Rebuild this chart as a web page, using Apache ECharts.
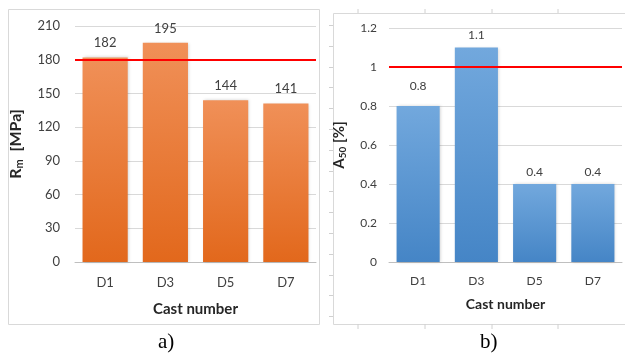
<!DOCTYPE html>
<html>
<head>
<meta charset="utf-8">
<script src="https://cdn.jsdelivr.net/npm/echarts@6/dist/echarts.min.js"></script>
<style>
  html, body { margin: 0; padding: 0; background: #fff; }
  #chart { width: 625px; height: 355px; }
</style>
</head>
<body>
<div id="chart"></div>
<script>
// Cast numbers and measured properties
const casts = ['D1', 'D3', 'D5', 'D7'];
const tensileStrength = [182, 195, 144, 141];   // Rm, MPa
const elongation = [0.8, 1.1, 0.4, 0.4];        // A50, %
const tensileLimit = 180;
const elongationLimit = 1;

// Axis ranges
const tensileAxis = { min: 0, max: 210, interval: 30 };
const elongAxis = { min: 0, max: 1.2, interval: 0.2 };

const FONT = 'Lato, "Open Sans", sans-serif';
const TXT = '#404040';
const GRID = '#d9d9d9';

function grad(top, bottom) {
  return { type: 'linear', x: 0, y: 0, x2: 0, y2: 1,
    colorStops: [{ offset: 0, color: top }, { offset: 1, color: bottom }] };
}

const chart = echarts.init(document.getElementById('chart'), null, { renderer: 'canvas' });

// thin cell-border ticks around the second panel
const cellTicks = [];
[358, 425, 492, 558].forEach(x => {
  cellTicks.push({ type: 'line', shape: { x1: x, y1: 9, x2: x, y2: 13 }, style: { stroke: '#d0d0d0', lineWidth: 1 } });
  cellTicks.push({ type: 'line', shape: { x1: x, y1: 324, x2: x, y2: 329 }, style: { stroke: '#d0d0d0', lineWidth: 1 } });
});
for (let k = 0; k < 15; k++) {
  const y = Math.round(25 + k * 20.8) + 0.5;
  cellTicks.push({ type: 'line', shape: { x1: 329, y1: y, x2: 333, y2: y }, style: { stroke: '#d0d0d0', lineWidth: 1 } });
}

const option = {
  backgroundColor: '#ffffff',
  animation: false,
  textStyle: { fontFamily: FONT },
  grid: [
    { left: 75, right: 309, top: 26, bottom: 93 },
    { left: 389, right: 3, top: 28, bottom: 93 }
  ],
  xAxis: [
    {
      gridIndex: 0, type: 'category', data: casts,
      axisLine: { lineStyle: { color: '#bfbfbf', width: 1 } },
      axisTick: { show: false },
      axisLabel: { color: TXT, fontSize: 13, margin: 14, fontFamily: FONT },
      name: 'Cast number', nameLocation: 'middle', nameGap: 40,
      nameTextStyle: { color: '#262626', fontSize: 15, fontWeight: 'bold', fontFamily: FONT }
    },
    {
      gridIndex: 1, type: 'category', data: casts,
      axisLine: { lineStyle: { color: '#bfbfbf', width: 1 } },
      axisTick: { show: false },
      axisLabel: { color: TXT, fontSize: 12, margin: 13, fontFamily: FONT },
      name: 'Cast number', nameLocation: 'middle', nameGap: 35,
      nameTextStyle: { color: '#262626', fontSize: 14, fontWeight: 'bold', fontFamily: FONT }
    }
  ],
  yAxis: [
    {
      gridIndex: 0, type: 'value', min: tensileAxis.min, max: tensileAxis.max, interval: tensileAxis.interval,
      axisLine: { show: false }, axisTick: { show: false },
      axisLabel: { color: TXT, fontSize: 13, margin: 15, fontFamily: FONT },
      splitLine: { lineStyle: { color: GRID, width: 1 } },
      name: '{b|R}{s|m}{b|  [MPa]}', nameLocation: 'middle', nameGap: 50,
      nameTextStyle: {
        rich: {
          b: { fontSize: 16, fontWeight: 'bold', color: '#262626', fontFamily: FONT },
          s: { fontSize: 11, fontWeight: 'bold', color: '#262626', fontFamily: FONT, padding: [8, 0, 0, 0] }
        }
      }
    },
    {
      gridIndex: 1, type: 'value', min: elongAxis.min, max: elongAxis.max, interval: elongAxis.interval,
      axisLine: { show: false }, axisTick: { show: false },
      axisLabel: { color: TXT, fontSize: 12, margin: 12, fontFamily: FONT },
      splitLine: { lineStyle: { color: GRID, width: 1 } },
      name: '{b|A}{s|50}{b| [%]}', nameLocation: 'middle', nameGap: 41,
      nameTextStyle: {
        rich: {
          b: { fontSize: 15, fontWeight: 'bold', color: '#262626', fontFamily: FONT },
          s: { fontSize: 10, fontWeight: 'bold', color: '#262626', fontFamily: FONT, padding: [8, 0, 0, 0] }
        }
      }
    }
  ],
  series: [
    {
      type: 'bar', xAxisIndex: 0, yAxisIndex: 0, data: tensileStrength,
      barCategoryGap: '25%',
      itemStyle: {
        color: grad('#f09058', '#e2681c'),
        shadowColor: 'rgba(0,0,0,0.18)', shadowBlur: 3, shadowOffsetX: 1, shadowOffsetY: 0
      },
      label: { show: true, position: 'top', distance: 8, color: TXT, fontSize: 13, fontFamily: FONT },
      markLine: {
        symbol: 'none', silent: true, label: { show: false },
        lineStyle: { color: '#ff0000', width: 2, type: 'solid' },
        data: [{ yAxis: tensileLimit }]
      }
    },
    {
      type: 'bar', xAxisIndex: 1, yAxisIndex: 1,
      data: elongation.map((v, i) => i === 0 ? { value: v, label: { offset: [0, -8] } } : v),
      barCategoryGap: '26%',
      itemStyle: {
        color: grad('#72a8dd', '#4585c6'),
        shadowColor: 'rgba(0,0,0,0.18)', shadowBlur: 3, shadowOffsetX: 1, shadowOffsetY: 0
      },
      label: { show: true, position: 'top', distance: 6, color: TXT, fontSize: 12, fontFamily: FONT },
      markLine: {
        symbol: 'none', silent: true, label: { show: false },
        lineStyle: { color: '#ff0000', width: 2, type: 'solid' },
        data: [{ yAxis: elongationLimit }]
      }
    }
  ],
  graphic: [
    { type: 'rect', shape: { x: 8.5, y: 9.5, width: 311, height: 315 }, style: { fill: 'none', stroke: '#d9d9d9', lineWidth: 1 }, z: -1 },
    { type: 'rect', shape: { x: 333.5, y: 13.5, width: 300, height: 311 }, style: { fill: 'none', stroke: '#d9d9d9', lineWidth: 1 }, z: -1 },
    ...cellTicks,
    { type: 'text', left: 158, top: 332, style: { text: 'a)', fontSize: 21, fontFamily: '"Liberation Serif", serif', fill: '#000' } },
    { type: 'text', left: 480, top: 332, style: { text: 'b)', fontSize: 21, fontFamily: '"Liberation Serif", serif', fill: '#000' } }
  ]
};

chart.setOption(option);
</script>
</body>
</html>
